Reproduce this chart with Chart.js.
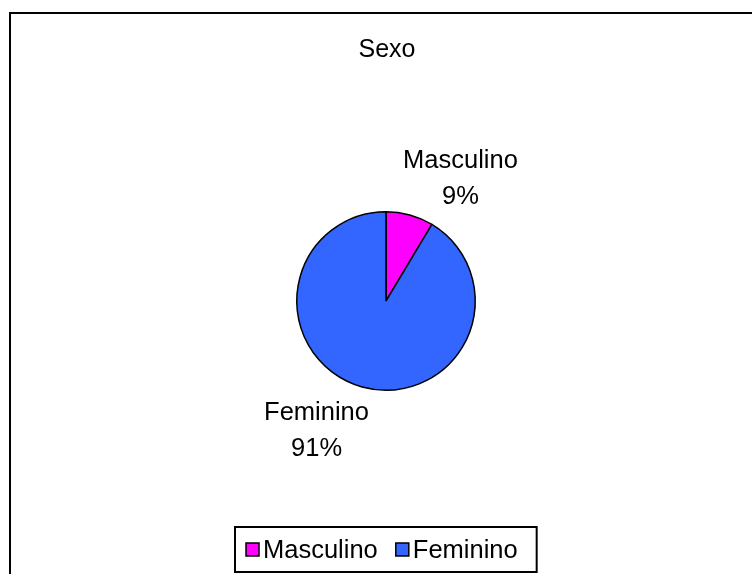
<!DOCTYPE html>
<html>
<head>
<meta charset="utf-8">
<script src="https://cdn.jsdelivr.net/npm/chart.js@4.4.0/dist/chart.umd.min.js"></script>
<style>
  html, body { margin: 0; padding: 0; background: #fff; }
  canvas { display: block; }
</style>
</head>
<body>
<canvas id="grafico" width="752" height="574"></canvas>
<script>
// datos
const titulo = 'Sexo';
const categorias = ['Masculino', 'Feminino'];
const valores = [8.6, 91.4];
const colores = ['#FF00FF', '#3366FF'];

const FONT = '"Liberation Sans", Arial, sans-serif';

const decoracion = {
    id: 'decoracion',
    afterDraw(chart) {
        const ctx = chart.ctx;
        ctx.save();

        // borde del área del gráfico (recortado a derecha y abajo)
        ctx.strokeStyle = '#000';
        ctx.lineWidth = 2;
        ctx.beginPath();
        ctx.moveTo(10, 574);
        ctx.lineTo(10, 13);
        ctx.lineTo(752, 13);
        ctx.stroke();

        // título
        ctx.fillStyle = '#000';
        ctx.font = '25px ' + FONT;
        ctx.textAlign = 'center';
        ctx.textBaseline = 'alphabetic';
        ctx.fillText(titulo, 387, 57);

        // etiquetas de los sectores
        ctx.font = '25.5px ' + FONT;
        const meta = chart.getDatasetMeta(0);
        const total = valores.reduce((a, b) => a + b, 0);
        meta.data.forEach((arc, i) => {
            const mid = (arc.startAngle + arc.endAngle) / 2;
            const r = arc.outerRadius + 12;
            const ax = arc.x + Math.cos(mid) * r;
            const ay = arc.y + Math.sin(mid) * r;
            const pct = Math.round(valores[i] / total * 100) + '%';
            const w = Math.max(ctx.measureText(categorias[i]).width, ctx.measureText(pct).width);
            const arriba = Math.sin(mid) < 0;
            const cx = ax + Math.sign(Math.cos(mid)) * (w / 2 - 10);
            const cy = ay + (arriba ? -26 : 30);
            ctx.fillText(categorias[i], cx, cy - 9);
            ctx.fillText(pct, cx, cy + 27);
        });

        // leyenda
        ctx.font = '25.5px ' + FONT;
        ctx.textAlign = 'left';
        const caja = 13, gap = 4, sep = 18, padL = 11, padR = 19;
        let ancho = padL + padR;
        categorias.forEach((c, i) => {
            ancho += caja + gap + ctx.measureText(c).width + (i < categorias.length - 1 ? sep : 0);
        });
        const lx = Math.round(386 - ancho / 2);
        ctx.lineWidth = 2;
        ctx.strokeRect(lx, 527, ancho, 45);
        let x = lx + padL;
        categorias.forEach((c, i) => {
            ctx.fillStyle = colores[i];
            ctx.fillRect(x, 543, caja, caja);
            ctx.strokeStyle = '#000';
            ctx.lineWidth = 1.5;
            ctx.strokeRect(x, 543, caja, caja);
            x += caja + gap;
            ctx.fillStyle = '#000';
            ctx.fillText(c, x, 558);
            x += ctx.measureText(c).width + sep;
        });

        ctx.restore();
    }
};

new Chart(document.getElementById('grafico').getContext('2d'), {
    type: 'pie',
    data: {
        labels: categorias,
        datasets: [{
            data: valores,
            backgroundColor: colores,
            borderColor: '#000',
            borderWidth: 1.5
        }]
    },
    options: {
        responsive: false,
        animation: false,
        devicePixelRatio: 1,
        layout: { padding: { left: 296, right: 276, top: 211, bottom: 183 } },
        plugins: {
            legend: { display: false },
            title: { display: false },
            tooltip: { enabled: false }
        }
    },
    plugins: [decoracion]
});
</script>
</body>
</html>
